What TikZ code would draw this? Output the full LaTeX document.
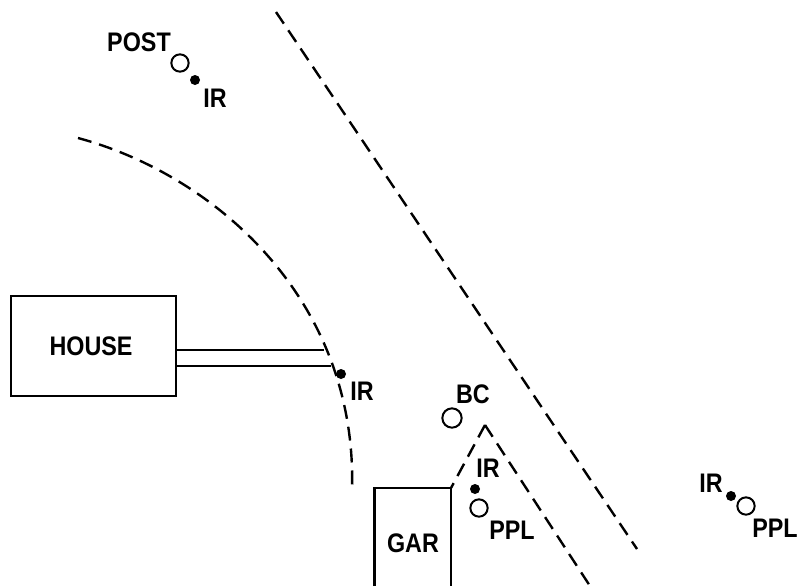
\documentclass[tikz,border=0pt]{standalone}
\usepackage{fontspec}
\setmainfont{Liberation Sans}
\tikzset{
 lbl/.style={inner sep=0pt,font=\fontsize{17.5}{17.5}\selectfont\bfseries,yscale=1.15,transform shape},
 dashline/.style={dash pattern=on 10.5pt off 6pt,line width=1.8pt},
 hollow/.style={circle,draw,line width=1.5pt,inner sep=0pt,minimum size=13pt},
 solidpt/.style={circle,fill=black,inner sep=0pt,minimum size=7.5pt},
 box/.style={draw,line width=1.6pt,inner sep=0pt},
 wall/.style={line width=1.7pt}
}
\begin{document}
\begin{tikzpicture}[x=0.75pt,y=-0.75pt]
\useasboundingbox (0,0) rectangle (811,586);
\coordinate (r1) at (276,12);
\coordinate (r2) at (637,549);
\draw[dashline] (r1) -- (r2);
\coordinate (c1) at (78,138);
\coordinate (c2) at (352,491);
\draw[dashline] (c1) .. controls (215,175) and (358,300) .. (c2);
\node[box,minimum width=123.75pt,minimum height=75pt,anchor=north west] (house) at (9.5,294.5) {};
\node[lbl] (houselbl) at (91,346) {HOUSE};
\coordinate (w1) at (175,350);
\coordinate (w2) at (175,366);
\coordinate (w1e) at (324,350);
\coordinate (w2e) at (331,366);
\draw[wall] (w1) -- (w1e);
\draw[wall] (w2) -- (w2e);
\node[solidpt] (ir1) at (341,374) {};
\node[lbl] (ir1l) at (362,391) {IR};
\node[hollow,minimum size=14.5pt] (bc) at (452,418) {};
\node[lbl] (bcl) at (473,394) {BC};
\coordinate (a) at (485,425);
\coordinate (gartop) at (451,488);
\coordinate (b) at (590,586);
\draw[dashline] (a) -- (gartop);
\draw[dashline] (a) -- (b);
\coordinate (g1) at (374.5,586);
\coordinate (g2) at (374.5,488);
\coordinate (g3) at (451,586);
\draw[wall] (g1) -- (g2) -- (gartop) -- (g3);
\node[lbl] (garl) at (413,543) {GAR};
\node[solidpt] (ir2) at (475,489) {};
\node[lbl] (ir2l) at (488,468) {IR};
\node[hollow] (ppl1) at (479,508) {};
\node[lbl] (ppl1l) at (512,530) {PPL};
\node[solidpt] (ir3) at (731,496) {};
\node[lbl] (ir3l) at (711,483) {IR};
\node[hollow] (ppl2) at (746,506) {};
\node[lbl] (ppl2l) at (775,528) {PPL};
\node[hollow] (post) at (180,63) {};
\node[lbl] (postl) at (139,42) {POST};
\node[solidpt] (ir4) at (195,80) {};
\node[lbl] (ir4l) at (215,98) {IR};
\end{tikzpicture}
\end{document}
